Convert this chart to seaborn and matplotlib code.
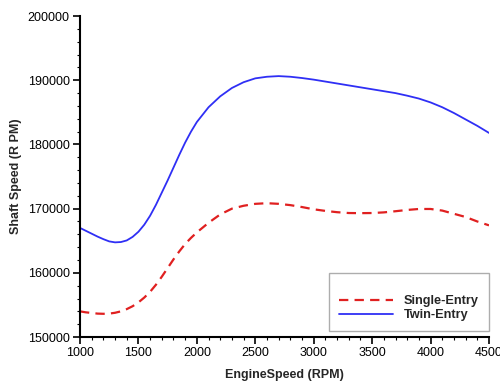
import numpy as np
import pandas as pd
import matplotlib
matplotlib.use("Agg")
import matplotlib.pyplot as plt
import seaborn as sns
from matplotlib.ticker import MultipleLocator
from matplotlib.lines import Line2D

engine_rpm = [1000, 1050, 1100, 1150, 1200, 1250, 1300, 1350, 1400, 1450, 1500, 1550,
              1600, 1650, 1700, 1750, 1800, 1850, 1900, 1950, 2000,
              2100, 2200, 2300, 2400, 2500, 2600, 2700, 2800, 2900, 3000, 3100,
              3200, 3300, 3400, 3500, 3600, 3700, 3800, 3900, 4000, 4100, 4200,
              4300, 4400, 4500]
twin_entry = [167000, 166550, 166100, 165650, 165250, 164900, 164750, 164800, 165050,
              165600, 166400, 167500, 168900, 170600, 172500, 174400, 176400, 178400,
              180300, 182000, 183500, 185800, 187500, 188800, 189700, 190300, 190550,
              190650, 190550, 190350, 190100, 189800, 189500, 189200, 188900, 188600,
              188300, 188000, 187600, 187150, 186550, 185800, 184900, 183900, 182900,
              181800]
single_entry = [154000, 153850, 153750, 153650, 153620, 153650, 153780, 154000, 154350,
                154800, 155400, 156150, 157050, 158150, 159400, 160750, 162100, 163350,
                164500, 165450, 166300, 167800, 169100, 170000, 170450, 170750, 170850,
                170750, 170550, 170250, 169900, 169650, 169450, 169320, 169300, 169320,
                169420, 169600, 169800, 169950, 169950, 169700, 169200, 168700, 168000,
                167400]

df = pd.concat([
    pd.DataFrame({"rpm": engine_rpm, "speed": single_entry, "series": "Single-Entry"}),
    pd.DataFrame({"rpm": engine_rpm, "speed": twin_entry, "series": "Twin-Entry"}),
])

sns.set_style("ticks")
plt.rcParams["font.family"] = ["Liberation Sans", "DejaVu Sans"]

fig = plt.figure(figsize=(5.0, 3.83), dpi=100)
ax = fig.add_axes([0.16, 0.12, 0.818, 0.838])

red = "#e02020"
blue = "#2f2ff5"
dash = (0, (4.2, 2.8))
sns.lineplot(data=df[df.series == "Twin-Entry"], x="rpm", y="speed",
             color=blue, ax=ax, linewidth=1.3)
sns.lineplot(data=df[df.series == "Single-Entry"], x="rpm", y="speed",
             color=red, ax=ax, linewidth=1.6)
ax.lines[-1].set_linestyle(dash)

ax.set_xlim(1000, 4500)
ax.set_ylim(150000, 200000)
ax.xaxis.set_major_locator(MultipleLocator(500))
ax.xaxis.set_minor_locator(MultipleLocator(100))
ax.yaxis.set_major_locator(MultipleLocator(10000))
ax.yaxis.set_minor_locator(MultipleLocator(2000))
for s in ["top", "right"]:
    ax.spines[s].set_visible(False)
for s in ["left", "bottom"]:
    ax.spines[s].set_linewidth(1.5)
    ax.spines[s].set_color("black")
ax.tick_params(which="major", direction="out", length=5, width=1.2, labelsize=9,
               colors="black", pad=2.5)
ax.tick_params(which="minor", direction="out", length=2.5, width=0.8, colors="black")

ax.set_xlabel("EngineSpeed (RPM)", fontsize=9, fontweight="bold", labelpad=7)
ax.set_ylabel("Shaft Speed (R PM)", fontsize=9, fontweight="bold", labelpad=4)

handles = [Line2D([], [], color=red, lw=1.6, ls=dash),
           Line2D([], [], color=blue, lw=1.3)]
leg = ax.legend(handles, ["Single-Entry", "Twin-Entry"], title=" ",
                loc="lower right", bbox_to_anchor=(1.0, 0.018),
                prop={"size": 9.2, "weight": "bold"}, title_fontsize=8,
                frameon=True, fancybox=False, handlelength=4.2, handletextpad=0.85,
                labelspacing=0.15, borderpad=0.8, borderaxespad=0.0)
leg.get_frame().set_edgecolor("#999999")
leg.get_frame().set_linewidth(1.0)

fig.savefig("out.png", dpi=100)
